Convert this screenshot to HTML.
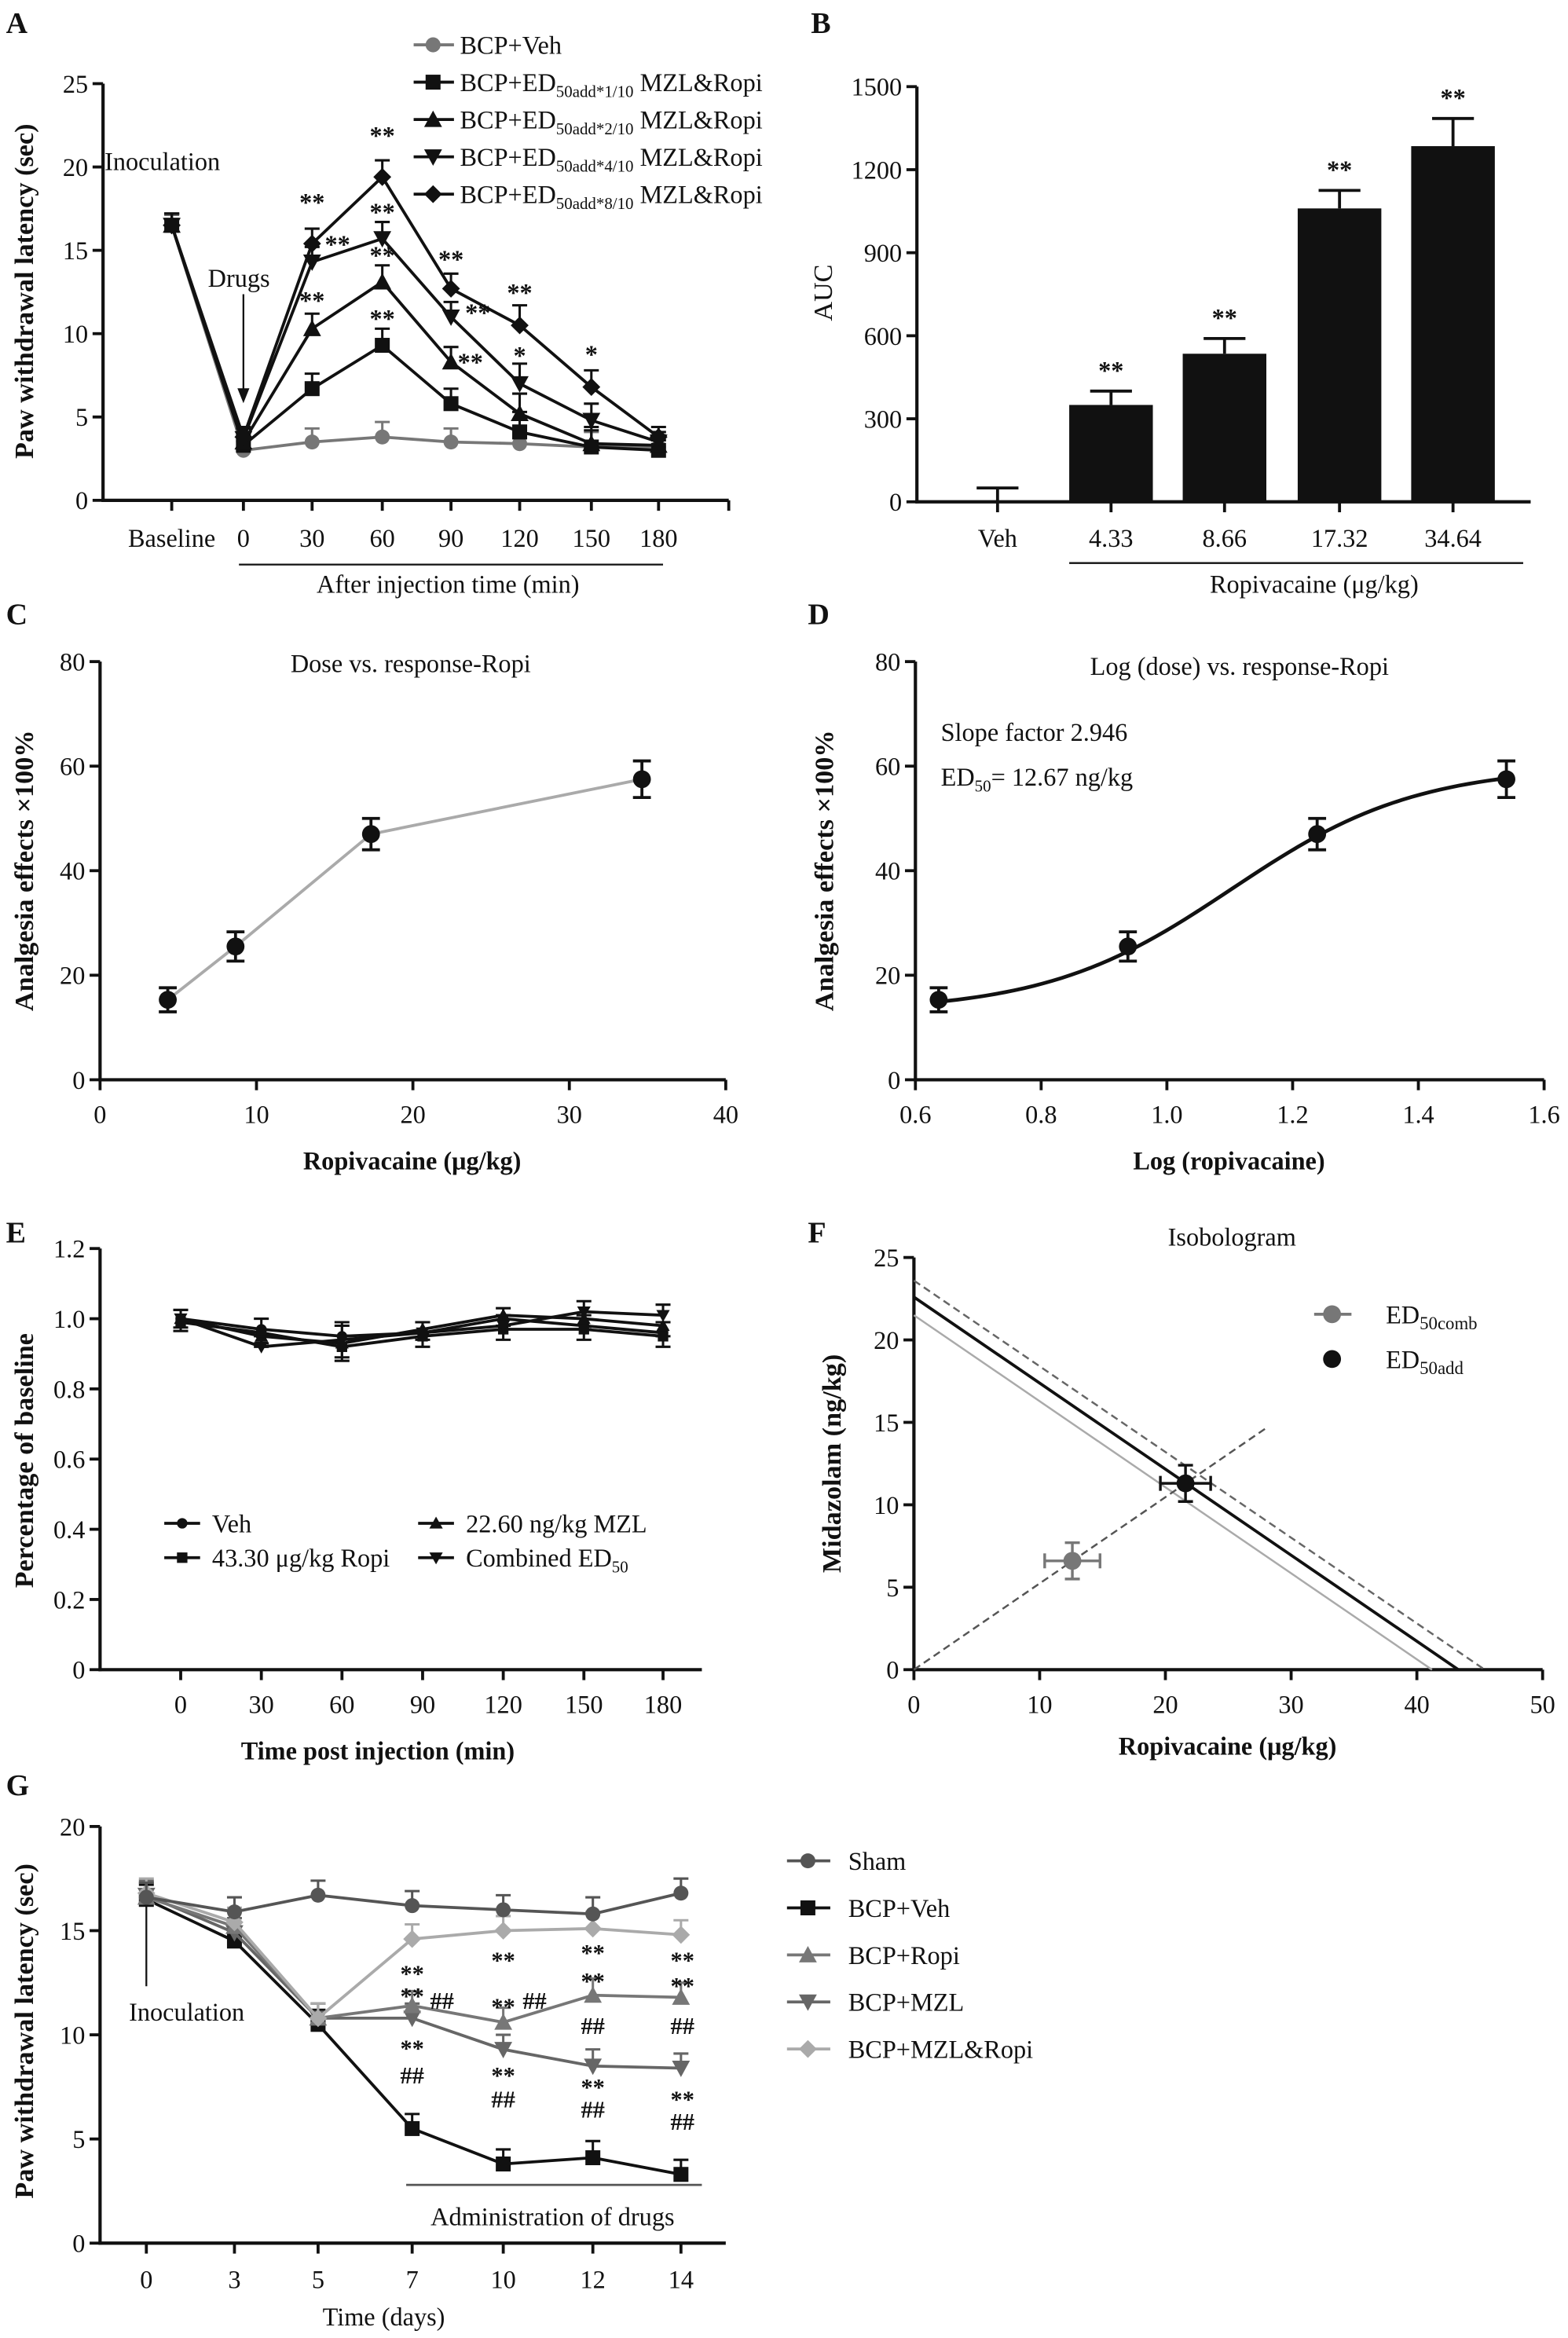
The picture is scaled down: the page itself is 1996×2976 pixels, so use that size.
<!DOCTYPE html>
<html><head><meta charset="utf-8"><style>
html,body{margin:0;padding:0;background:#fff}
svg{display:block;font-family:"Liberation Serif",serif}
</style></head><body>
<svg id="fig" xmlns="http://www.w3.org/2000/svg" width="1996" height="2976" viewBox="0 0 1050 1565.5"></svg>
<script>
// ---------- DATA ----------
const aCats=["Baseline","0","30","60","90","120","150","180"];
const aVeh=[16.5,3.0,3.5,3.8,3.5,3.4,3.2,3.2];
const aD1=[16.5,3.3,6.7,9.3,5.8,4.1,3.2,3.0];
const aD2=[16.5,3.5,10.3,13.1,8.3,5.2,3.4,3.3];
const aD4=[16.5,3.7,14.3,15.7,11.0,7.0,4.8,3.5];
const aD8=[16.5,3.8,15.4,19.4,12.7,10.5,6.8,3.8];
const aErr=[0.7,0.6,0.9,1.0,0.9,1.2,1.0,0.6];
const aTicks=[0,5,10,15,20,25];
const bCats=["Veh","4.33","8.66","17.32","34.64"];
const bVals=[0,350,535,1060,1285];
const bErr=[50,50,55,65,100];
const bTicks=[0,300,600,900,1200,1500];
const cDose=[4.33,8.66,17.32,34.64];
const cEff=[15.3,25.5,47,57.5];
const cErr=[2.3,2.8,3.0,3.5];
const cXTicks=[0,10,20,30,40];
const cYTicks=[0,20,40,60,80];
const dLog=[0.637,0.938,1.239,1.540];
const dXTicks=[0.6,0.8,1.0,1.2,1.4,1.6];
const dFit={bottom:13,top:60,logEC50:1.103,hill:2.946};
const eCats=["0","30","60","90","120","150","180"];
const eVeh=[1.0,0.97,0.95,0.96,1.00,0.98,0.96];
const eMZL=[1.0,0.95,0.93,0.97,1.01,1.00,0.98];
const eRopi=[0.99,0.96,0.92,0.95,0.97,0.97,0.95];
const eComb=[1.0,0.92,0.94,0.96,0.98,1.02,1.01];
const eTicks=[0,0.2,0.4,0.6,0.8,1.0,1.2];
const fLineAdd=[22.6,43.3];
const fLineHi=[23.6,45.4];
const fLineLo=[21.5,41.2];
const fComb=[12.6,6.6,2.2,1.1];
const fAdd=[21.6,11.3,2.0,1.1];
const fXTicks=[0,10,20,30,40,50];
const fYTicks=[0,5,10,15,20,25];
const gCats=["0","3","5","7","10","12","14"];
const gSham=[16.6,15.9,16.7,16.2,16.0,15.8,16.8];
const gVeh=[16.5,14.5,10.5,5.5,3.8,4.1,3.3];
const gRopi=[16.6,15.2,10.8,11.4,10.6,11.9,11.8];
const gMZL=[16.7,14.9,10.8,10.8,9.3,8.5,8.4];
const gComb=[16.8,15.4,10.8,14.6,15.0,15.1,14.8];
const gTicks=[0,5,10,15,20];

// ---------- HELPERS ----------
const NS="http://www.w3.org/2000/svg";
const svg=document.getElementById('fig');
function mk(tag,attrs,name,parent,inter){
  const e=document.createElementNS(NS,tag);
  for(const k in attrs)e.setAttribute(k,attrs[k]);
  
  
  (parent||svg).appendChild(e);return e;
}
function txt(x,y,s,name,opt){
  opt=opt||{};
  const t=mk('text',{x:x,y:y,'font-size':opt.fs||17,'text-anchor':opt.anchor||'middle',fill:opt.fill||'#111','font-weight':opt.fw||'normal'},name,opt.parent);
  if(opt.rot!==undefined)t.setAttribute('transform','rotate('+opt.rot+' '+x+' '+y+')');
  if(opt.ff)t.setAttribute('font-family',opt.ff);
  t.textContent=s;return t;
}
function line(x1,y1,x2,y2,name,stroke,w,dash){
  const l=mk('line',{x1:x1,y1:y1,x2:x2,y2:y2,stroke:stroke||'#111','stroke-width':w||2},name);
  if(dash)l.setAttribute('stroke-dasharray',dash);return l;
}
function lin(d0,d1,p0,p1){return v=>p0+(v-d0)/(d1-d0)*(p1-p0);}
function marker(shape,x,y,fill,name,r){
  r=r||5;
  if(shape==='circle')return mk('circle',{cx:x,cy:y,r:r,fill:fill},name);
  if(shape==='square')return mk('rect',{x:x-r,y:y-r,width:2*r,height:2*r,fill:fill},name);
  let p;
  if(shape==='up')p=[[x,y-r-1],[x+r+1,y+r],[x-r-1,y+r]];
  else if(shape==='down')p=[[x,y+r+1],[x+r+1,y-r],[x-r-1,y-r]];
  else p=[[x,y-r-1],[x+r+1,y],[x,y+r+1],[x-r-1,y]];
  return mk('polygon',{points:p.map(q=>q.join(',')).join(' '),fill:fill},name);
}
function yAxis(x,ys,ticks,fmt,name){
  line(x,ys(ticks[0])+1,x,ys(ticks[ticks.length-1]),name+'-line','#111',2.2);
  ticks.forEach(t=>{
    line(x-7,ys(t),x,ys(t),name+'-tick');
    txt(x-10,ys(t)+6,fmt?fmt(t):String(t),name+'-label',{anchor:'end'});
  });
}
function series(xs,vals,errs,ys,shape,color,name,up,r){
  const pts=vals.map((v,i)=>[xs[i],ys(v)]);
  mk('polyline',{points:pts.map(p=>p.join(',')).join(' '),fill:'none',stroke:color,'stroke-width':2},name+'-line');
  vals.forEach((v,i)=>{
    if(errs){const e=errs[i];const y2=ys(up===false?v-e:v+e);
      line(xs[i],ys(v),xs[i],y2,name+'-error',color,1.6);
      line(xs[i]-5,y2,xs[i]+5,y2,name+'-error-cap',color,1.6);}
    marker(shape,xs[i],ys(v),color,name+'-point',r);
  });
}
function panelLetter(x,y,s){txt(x,y,s,'panel-label-'+s.toLowerCase(),{fs:20,fw:'bold',anchor:'start'});}

// ---------- PANEL A ----------
panelLetter(4,22,'A');
(function(){
  const ys=lin(0,25,335,56);
  const xs=[115,163,209,256,302,348,396,441];
  yAxis(69,ys,aTicks,null,'a-y-axis');
  line(68,335,488,335,'a-x-axis','#111',2.2);
  xs.forEach((x,i)=>{line(x,335,x,342,'a-x-tick');txt(x,366,aCats[i],'a-x-label');});
  line(488,335,488,342,'a-x-tick');
  line(160,378,444,378,'a-bracket','#111',1.2);
  txt(300,397,'After injection time (min)','a-x-title');
  txt(22,195,'Paw withdrawal latency (sec)','a-y-title',{rot:-90,fw:'bold',fs:18});
  txt(70,114,'Inoculation','a-inoculation-label',{anchor:'start'});
  txt(160,192,'Drugs','a-drugs-label');
  line(163,197,163,262,'a-drugs-arrow','#111',1.2);
  mk('polygon',{points:'159,260 167,260 163,270',fill:'#111'},'a-drugs-arrowhead');
  const err=aErr;
  series(xs,aVeh,err.map(e=>e*0.9),ys,'circle','#777','a-series-veh');
  series(xs,aD1,err,ys,'square','#111','a-series-d1');
  series(xs,aD2,err,ys,'up','#111','a-series-d2');
  series(xs,aD4,err,ys,'down','#111','a-series-d4');
  series(xs,aD8,err,ys,'diamond','#111','a-series-d8');
  const stars=[[209,15.4,'**',0,22],[226,14.3,'**',0,6],[209,10.3,'**',0,13],[256,19.4,'**',0,22],[256,15.7,'**',0,12],[256,13.1,'**',0,12],[256,9.3,'**',0,12],[302,12.7,'**',0,14],[320,11,'**',0,-3],[315,8.3,'**',0,-6],[348,10.5,'**',0,16],[348,7,'*',0,13],[396,6.8,'*',0,16]];
  stars.forEach(s=>txt(s[0],ys(s[1])-s[4],s[2],'a-significance',{fs:17,fw:'bold'}));
  const leg=[['circle','#777','BCP+Veh',null],['square','#111','BCP+ED','*1/10'],['up','#111','BCP+ED','*2/10'],['down','#111','BCP+ED','*4/10'],['diamond','#111','BCP+ED','*8/10']];
  leg.forEach((l,i)=>{const y=30+i*25;
    line(277,y,304,y,'a-legend-line',l[1],2);marker(l[0],290,y,l[1],'a-legend-marker');
    const t=txt(308,y+6,l[2],'a-legend-entry',{anchor:'start'});
    if(l[3]){const s=document.createElementNS(NS,'tspan');s.setAttribute('font-size','11');s.setAttribute('dy','4');s.textContent='50add'+l[3];t.appendChild(s);
      const s2=document.createElementNS(NS,'tspan');s2.setAttribute('dy','-4');s2.textContent=' MZL&Ropi';t.appendChild(s2);}
  });
})();

// ---------- PANEL B ----------
panelLetter(543,22,'B');
(function(){
  const ys=lin(0,1500,336,58);
  const xs=[668,744,820,897,973];
  yAxis(614,ys,bTicks,null,'b-y-axis');
  line(613,336,1025,336,'b-x-axis','#111',2.2);
  xs.forEach((x,i)=>{line(x,336,x,343,'b-x-tick');txt(x,366,bCats[i],'b-x-label');
    if(bVals[i]>0)mk('rect',{x:x-28,y:ys(bVals[i]),width:56,height:336-ys(bVals[i]),fill:'#111'},'b-bar');
    const ye=ys(bVals[i]+bErr[i]);line(x,ys(bVals[i]),x,ye,'b-error','#111',2);line(x-14,ye,x+14,ye,'b-error-cap','#111',2);
    if(bVals[i]>0)txt(x,ye-8,'**','b-significance',{fw:'bold'});
  });
  line(716,377,1020,377,'b-bracket','#111',1.2);
  txt(880,397,'Ropivacaine (μg/kg)','b-x-title');
  txt(557,196,'AUC','b-y-title',{rot:-90,fs:18});
})();

// ---------- PANEL C ----------
panelLetter(4,418,'C');
(function(){
  const ys=lin(0,80,723,443), xs=lin(0,40,67,486);
  yAxis(67,ys,cYTicks,null,'c-y-axis');
  line(66,723,486,723,'c-x-axis','#111',2.2);
  cXTicks.forEach(t=>{line(xs(t),723,xs(t),730,'c-x-tick');txt(xs(t),752,String(t),'c-x-label');});
  txt(275,450,'Dose vs. response-Ropi','c-title');
  txt(276,783,'Ropivacaine (μg/kg)','c-x-title',{fw:'bold'});
  txt(22,583,'Analgesia effects ×100%','c-y-title',{rot:-90,fw:'bold',fs:18});
  const X=cDose.map(xs);
  mk('polyline',{points:cDose.map((d,i)=>xs(d)+','+ys(cEff[i])).join(' '),fill:'none',stroke:'#aaa','stroke-width':2},'c-series-line');
  cEff.forEach((v,i)=>{const y1=ys(v+cErr[i]),y2=ys(v-cErr[i]);
    line(X[i],y1,X[i],y2,'c-error','#111',2);line(X[i]-6,y1,X[i]+6,y1,'c-error-cap','#111',2);line(X[i]-6,y2,X[i]+6,y2,'c-error-cap','#111',2);
    marker('circle',X[i],ys(v),'#111','c-point',6);});
})();

// ---------- PANEL D ----------
panelLetter(541,418,'D');
(function(){
  const ys=lin(0,80,723,443), xs=lin(0.6,1.6,613,1034);
  yAxis(613,ys,cYTicks,null,'d-y-axis');
  line(612,723,1034,723,'d-x-axis','#111',2.2);
  dXTicks.forEach(t=>{line(xs(t),723,xs(t),730,'d-x-tick');txt(xs(t),752,t.toFixed(1),'d-x-label');});
  txt(830,452,'Log (dose) vs. response-Ropi','d-title');
  txt(823,783,'Log (ropivacaine)','d-x-title',{fw:'bold'});
  txt(558,583,'Analgesia effects ×100%','d-y-title',{rot:-90,fw:'bold',fs:18});
  txt(630,496,'Slope factor  2.946','d-slope-text',{anchor:'start'});
  const t=txt(630,526,'ED','d-ed50-text',{anchor:'start'});
  const s=document.createElementNS(NS,'tspan');s.setAttribute('font-size','11');s.setAttribute('dy','4');s.textContent='50';t.appendChild(s);
  const s2=document.createElementNS(NS,'tspan');s2.setAttribute('dy','-4');s2.textContent='= 12.67 ng/kg';t.appendChild(s2);
  const f=x=>dFit.bottom+(dFit.top-dFit.bottom)/(1+Math.pow(10,(dFit.logEC50-x)*dFit.hill));
  const pts=[];const a=dLog[0],b=dLog[dLog.length-1];
  for(let i=0;i<=60;i++){const x=a+(b-a)*i/60;pts.push(xs(x)+','+ys(f(x)));}
  mk('polyline',{points:pts.join(' '),fill:'none',stroke:'#111','stroke-width':2.5},'d-fit-curve');
  cEff.forEach((v,i)=>{const X=xs(dLog[i]);const y1=ys(v+cErr[i]),y2=ys(v-cErr[i]);
    line(X,y1,X,y2,'d-error','#111',2);line(X-6,y1,X+6,y1,'d-error-cap','#111',2);line(X-6,y2,X+6,y2,'d-error-cap','#111',2);
    marker('circle',X,ys(v),'#111','d-point',6);});
})();

// ---------- PANEL E ----------
panelLetter(4,832,'E');
(function(){
  const ys=lin(0,1.2,1118,836);
  const xs=[121,175,229,283,337,391,444];
  yAxis(67,ys,eTicks,t=>t===0?'0':t.toFixed(1),'e-y-axis');
  line(66,1118,470,1118,'e-x-axis','#111',2.2);
  xs.forEach((x,i)=>{line(x,1118,x,1125,'e-x-tick');txt(x,1147,eCats[i],'e-x-label');});
  txt(253,1178,'Time post injection (min)','e-x-title',{fw:'bold'});
  txt(22,978,'Percentage of baseline','e-y-title',{rot:-90,fw:'bold',fs:18});
  const er=[0.025,0.03,0.04,0.03,0.03,0.03,0.03];
  series(xs,eVeh,er,ys,'circle','#111','e-series-veh',true,3.5);
  series(xs,eMZL,er,ys,'up','#111','e-series-mzl',false,3.5);
  series(xs,eRopi,er,ys,'square','#111','e-series-ropi',false,3.5);
  series(xs,eComb,er,ys,'down','#111','e-series-combined',true,3.5);
  const leg=[[110,1020,'circle','Veh'],[110,1043,'square','43.30 μg/kg Ropi'],[280,1020,'up','22.60 ng/kg MZL'],[280,1043,'down','Combined ED']];
  leg.forEach(l=>{line(l[0],l[1],l[0]+24,l[1],'e-legend-line','#111',2);marker(l[2],l[0]+12,l[1],'#111','e-legend-marker',3.5);
    const t=txt(l[0]+32,l[1]+6,l[3],'e-legend-entry',{anchor:'start'});
    if(l[3]==='Combined ED'){const s=document.createElementNS(NS,'tspan');s.setAttribute('font-size','11');s.setAttribute('dy','4');s.textContent='50';t.appendChild(s);}
  });
})();

// ---------- PANEL F ----------
panelLetter(541,832,'F');
(function(){
  const ys=lin(0,25,1118,842), xs=lin(0,50,612,1033);
  yAxis(612,ys,fYTicks,null,'f-y-axis');
  line(611,1118,1033,1118,'f-x-axis','#111',2.2);
  fXTicks.forEach(t=>{line(xs(t),1118,xs(t),1125,'f-x-tick');txt(xs(t),1147,String(t),'f-x-label');});
  txt(825,834,'Isobologram','f-title');
  txt(822,1175,'Ropivacaine (μg/kg)','f-x-title',{fw:'bold'});
  txt(563,980,'Midazolam (ng/kg)','f-y-title',{rot:-90,fw:'bold',fs:18});
  line(xs(0),ys(fLineHi[0]),xs(fLineHi[1]),ys(0),'f-upper-ci-line','#666',1.3,'5,3');
  line(xs(0),ys(fLineLo[0]),xs(fLineLo[1]),ys(0),'f-lower-ci-line','#aaa',1.3);
  line(xs(0),ys(fLineAdd[0]),xs(fLineAdd[1]),ys(0),'f-additive-line','#111',2);
  line(xs(0),ys(0),xs(28),ys(28*fAdd[1]/fAdd[0]),'f-ray-line','#555',1.3,'5,3');
  [[fComb,'#777','f-ed50comb'],[fAdd,'#111','f-ed50add']].forEach(p=>{const d=p[0];const X=xs(d[0]),Y=ys(d[1]);
    line(xs(d[0]-d[2]),Y,xs(d[0]+d[2]),Y,p[2]+'-xerror',p[1],1.8);
    line(X,ys(d[1]-d[3]),X,ys(d[1]+d[3]),p[2]+'-yerror',p[1],1.8);
    [[xs(d[0]-d[2]),Y,0],[xs(d[0]+d[2]),Y,0],[X,ys(d[1]-d[3]),1],[X,ys(d[1]+d[3]),1]].forEach(c=>{
      if(c[2])line(c[0]-5,c[1],c[0]+5,c[1],p[2]+'-cap',p[1],1.8);else line(c[0],c[1]-5,c[0],c[1]+5,p[2]+'-cap',p[1],1.8);});
    marker('circle',X,Y,p[1],p[2]+'-point',6);});
  line(880,880,905,880,'f-legend-line','#777',2);marker('circle',892,880,'#777','f-legend-marker',6);
  const t1=txt(928,886,'ED','f-legend-entry',{anchor:'start'});
  let s=document.createElementNS(NS,'tspan');s.setAttribute('font-size','12');s.setAttribute('dy','4');s.textContent='50comb';t1.appendChild(s);
  marker('circle',892,910,'#111','f-legend-marker',6);
  const t2=txt(928,916,'ED','f-legend-entry',{anchor:'start'});
  s=document.createElementNS(NS,'tspan');s.setAttribute('font-size','12');s.setAttribute('dy','4');s.textContent='50add';t2.appendChild(s);
})();

// ---------- PANEL G ----------
panelLetter(4,1202,'G');
(function(){
  const ys=lin(0,20,1502,1223);
  const xs=[98,157,213,276,337,397,456];
  yAxis(67,ys,gTicks,null,'g-y-axis');
  line(66,1502,486,1502,'g-x-axis','#111',2.2);
  xs.forEach((x,i)=>{line(x,1502,x,1509,'g-x-tick');txt(x,1532,gCats[i],'g-x-label');});
  txt(257,1557,'Time (days)','g-x-title');
  txt(22,1360,'Paw withdrawal latency (sec)','g-y-title',{rot:-90,fw:'bold',fs:18});
  txt(125,1353,'Inoculation','g-inoculation-label');
  line(98,1330,98,1270,'g-arrow','#111',1.2);mk('polygon',{points:'94,1272 102,1272 98,1262',fill:'#111'},'g-arrowhead');
  line(272,1463,470,1463,'g-bracket','#555',1.5);
  txt(370,1490,'Administration of drugs','g-bracket-label');
  const er=[0.7,0.7,0.7,0.7,0.7,0.8,0.7];
  series(xs,gVeh,er,ys,'square','#111','g-series-veh',true);
  series(xs,gMZL,er,ys,'down','#666','g-series-mzl',true);
  series(xs,gRopi,er,ys,'up','#777','g-series-ropi',true);
  series(xs,gComb,er,ys,'diamond','#aaa','g-series-combo',true);
  series(xs,gSham,er,ys,'circle','#555','g-series-sham',true);
  const ann=[[276,1327,'**'],[276,1342,'**'],[296,1345,'##'],[276,1377,'**'],[276,1395,'##'],[337,1318,'**'],[337,1349,'**'],[358,1345,'##'],[337,1395,'**'],[337,1411,'##'],[397,1313,'**'],[397,1332,'**'],[397,1362,'##'],[397,1403,'**'],[397,1418,'##'],[457,1318,'**'],[457,1335,'**'],[457,1362,'##'],[457,1411,'**'],[457,1426,'##']];
  ann.forEach(a=>txt(a[0],a[1],a[2],'g-significance',{fs:16,fw:'bold'}));
  const leg=[['circle','#555','Sham'],['square','#111','BCP+Veh'],['up','#777','BCP+Ropi'],['down','#666','BCP+MZL'],['diamond','#aaa','BCP+MZL&Ropi']];
  leg.forEach((l,i)=>{const y=1246+i*31.5;line(527,y,556,y,'g-legend-line',l[1],2);marker(l[0],541,y,l[1],'g-legend-marker');
    txt(568,y+6,l[2],'g-legend-entry',{anchor:'start'});});
})();
</script>
</body></html>
